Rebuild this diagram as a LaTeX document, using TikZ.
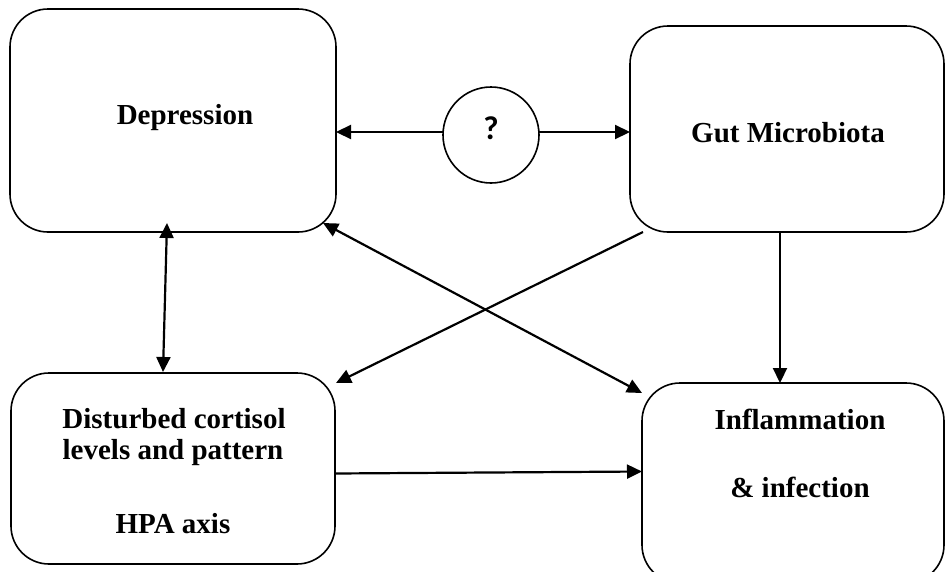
\documentclass[tikz,border=0pt]{standalone}
\usepackage{fontspec}
\setmainfont{Liberation Serif}
\newfontfamily\qfont{Carlito}
\usetikzlibrary{arrows.meta,calc}
\tikzset{
  box/.style={draw, line width=1.6pt, rounded corners=38pt, inner sep=0pt, outer sep=0pt},
  lbl/.style={anchor=base, inner sep=0pt, font=\fontsize{29}{34}\selectfont\bfseries},
  conn/.style={line width=2.2pt, -{Triangle[length=15pt,width=14pt]}},
  bconn/.style={line width=2.2pt, {Triangle[length=15pt,width=14pt]}-{Triangle[length=15pt,width=14pt]}}
}
\begin{document}
\begin{tikzpicture}[x=1pt,y=-1pt]
\useasboundingbox (0,0) rectangle (946,571);
% boxes
\node[box, minimum width=326pt, minimum height=223pt] (dep) at (173,120.5) {};
\node[box, minimum width=314pt, minimum height=206pt] (gut) at (787,129) {};
\node[box, minimum width=324pt, minimum height=191pt] (cort) at (173,468.5) {};
\node[box, minimum width=302pt, minimum height=200pt] (infl) at (793,483) {};
\node[draw, circle, line width=1.6pt, minimum size=96pt, inner sep=0pt, outer sep=0pt] (q) at (491,135) {};
% texts
\node[lbl] (tdep) at (185,124) {Depression};
\node[lbl] (tgut) at (788,142) {Gut Microbiota};
\node[lbl] (tc1) at (174,428) {Disturbed cortisol};
\node[lbl] (tc2) at (173,459) {levels and pattern};
\node[lbl] (tc3) at (173,533) {HPA axis};
\node[lbl] (ti1) at (800,429) {Inflammation};
\node[lbl] (ti2) at (800,497) {\& infection};
\node[anchor=base, inner sep=0pt, font=\qfont\fontsize{33}{36}\selectfont\bfseries] (tq) at (491,139) {?};
% connectors
\draw[conn] ($(q.west)+(0,-3)$) -- ($(q.west -| dep.east)+(0,-3)$);
\draw[conn] ($(q.east)+(0,-3)$) -- ($(q.east -| gut.west)+(0,-3)$);
\draw[bconn] ($(dep.south)+(-6,-9)$) -- ($(cort.north)+(-10,-1)$);
\draw[conn] ($(gut.south west)+(13,0)$) -- ($(cort.north east)+(1,10)$);
\draw[bconn] ($(dep.south east)+(-13,-9)$) -- ($(infl.north west)+(0,10)$);
\draw[conn] (gut.south -| 780,0) -- (infl.north -| 780,0);
\draw[conn] ($(cort.east)+(0,5)$) -- ($(cort.east -| infl.west)+(0,3)$);
\end{tikzpicture}
\end{document}
